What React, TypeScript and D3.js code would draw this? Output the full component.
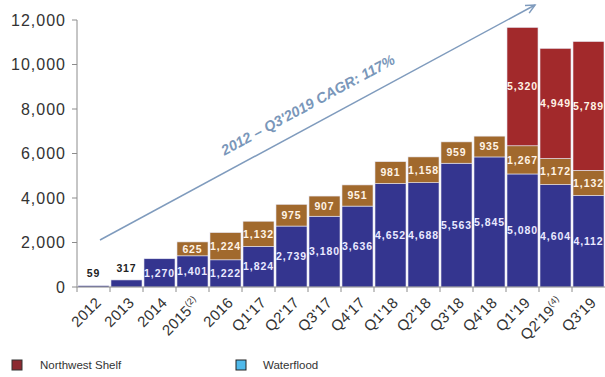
import React from "react";
import * as d3 from "d3";

const categories = ["2012", "2013", "2014", "2015", "2016", "Q1'17", "Q2'17", "Q3'17", "Q4'17", "Q1'18", "Q2'18", "Q3'18", "Q4'18", "Q1'19", "Q2'19", "Q3'19"];
const superscripts = ["", "", "", "(2)", "", "", "", "", "", "", "", "", "", "", "(4)", ""];
const baseValues = [59, 317, 1270, 1401, 1222, 1824, 2739, 3180, 3636, 4652, 4688, 5563, 5845, 5080, 4604, 4112];
const midValues = [0, 0, 0, 625, 1224, 1132, 975, 907, 951, 981, 1158, 959, 935, 1267, 1172, 1132];
const nwsValues = [0, 0, 0, 0, 0, 0, 0, 0, 0, 0, 0, 0, 0, 5320, 4949, 5789];
const yTicks = [0, 2000, 4000, 6000, 8000, 10000, 12000];
const cagrLabel = "2012 \u2013 Q3'2019 CAGR: 117%";
const legendItems = ["Northwest Shelf", "Waterflood"];

const W = 605, H = 377;
const BLUE = "#34358f";
const BROWN = "#a1692d";
const RED = "#a2292b";

export default function App() {
  const x = d3.scaleBand<string>().domain(categories).range([77, 605]).paddingInner(0.06).paddingOuter(0.03);
  const y = d3.scaleLinear().domain([0, 12000]).range([287, 20]);
  const fmt = d3.format(",");
  const font = "'Liberation Sans', Arial, sans-serif";

  const segs: any[] = [];
  categories.forEach((c, i) => {
    const b = baseValues[i], m = midValues[i], n = nwsValues[i];
    segs.push({ c, y0: 0, y1: b, v: b, fill: BLUE, key: "b" + i });
    if (m) segs.push({ c, y0: b, y1: b + m, v: m, fill: BROWN, key: "m" + i });
    if (n) segs.push({ c, y0: b + m, y1: b + m + n, v: n, fill: RED, key: "n" + i });
  });

  const bw = x.bandwidth();
  // arrow
  const ax0 = 100, ay0 = 240, ax1 = 535, ay1 = 5;
  const ang = Math.atan2(ay1 - ay0, ax1 - ax0);
  const angDeg = (ang * 180) / Math.PI;
  const head = 10;
  const h1 = [ax1 - head * Math.cos(ang - 0.45), ay1 - head * Math.sin(ang - 0.45)];
  const h2 = [ax1 - head * Math.cos(ang + 0.45), ay1 - head * Math.sin(ang + 0.45)];
  const tMid = 0.5;
  const tx = ax0 + (ax1 - ax0) * tMid, ty = ay0 + (ay1 - ay0) * tMid;
  const off = 15;
  const ttx = tx + off * Math.sin(ang), tty = ty - off * Math.cos(ang);

  return (
    <svg width={W} height={H} style={{ position: "absolute", left: 0, top: 0, background: "#fff" }}>
      {/* y axis */}
      <line x1={77} x2={77} y1={20} y2={287} stroke="#8c8c8c" strokeWidth={1} />
      {yTicks.map((t) => (
        <g key={t}>
          <line x1={72} x2={77} y1={y(t)} y2={y(t)} stroke="#8c8c8c" />
          <text x={66} y={y(t)} dy="0.36em" textAnchor="end" fontFamily={font} fontSize={16} letterSpacing={1} fill="#333">
            {fmt(t)}
          </text>
        </g>
      ))}
      {/* bars */}
      {segs.map((s) => (
        <rect key={s.key} x={x(s.c)!} width={bw} y={y(s.y1)} height={Math.max(0, y(s.y0) - y(s.y1))} fill={s.fill} stroke="#e6e6f2" strokeWidth={0.6} />
      ))}
      {/* x axis */}
      <line x1={77} x2={605} y1={287} y2={287} stroke="#8c8c8c" />
      {categories.map((c, i) => (
        <line key={"t" + c} x1={77 + i * x.step()} x2={77 + i * x.step()} y1={287} y2={292} stroke="#8c8c8c" />
      ))}
      {categories.map((c, i) => {
        const cx = x(c)! + bw / 2;
        return (
          <text key={"xl" + c} transform={`translate(${cx + 1},${296}) rotate(-45)`} textAnchor="end" dy="0.71em" fontFamily={font} fontSize={15} letterSpacing={0.3} fill="#333">
            {c}
            {superscripts[i] ? (
              <tspan fontSize={9} dy="-0.7em">{superscripts[i]}</tspan>
            ) : null}
          </text>
        );
      })}
      {/* value labels */}
      {segs.map((s) => {
        const cx = x(s.c)! + bw / 2;
        const small = y(s.y0) - y(s.y1) < 10;
        const cy = small ? y(s.y1) - 12 : (y(s.y0) + y(s.y1)) / 2;
        return (
          <text key={"l" + s.key} x={cx} y={cy} dy="0.36em" textAnchor="middle" fontFamily={font} fontWeight="bold" fontSize={10.5} letterSpacing={0.9} fill={small ? "#222" : s.fill === BLUE ? "#e9e9ff" : "#fff3e6"}>
            {fmt(s.v)}
          </text>
        );
      })}
      {/* CAGR arrow */}
      <line x1={ax0} y1={ay0} x2={ax1} y2={ay1} stroke="#7f9bbd" strokeWidth={1.5} />
      <polyline points={`${h1[0]},${h1[1]} ${ax1},${ay1} ${h2[0]},${h2[1]}`} fill="none" stroke="#7f9bbd" strokeWidth={1.5} />
      <text transform={`translate(${ttx},${tty}) rotate(${angDeg})`} textAnchor="middle" fontFamily={font} fontStyle="italic" fontWeight="bold" fontSize={14.5} fill="#7a97ba">
        {cagrLabel}
      </text>
      {/* legend */}
      <rect x={12} y={360} width={10} height={10} fill="#8c2a31" stroke="#333" strokeWidth={1} />
      <text x={40} y={365} dy="0.36em" fontFamily={font} fontSize={11.5} fill="#333">{legendItems[0]}</text>
      <rect x={236} y={360} width={10} height={10} fill="#4fb9ea" stroke="#222" strokeWidth={1} />
      <text x={263} y={365} dy="0.36em" fontFamily={font} fontSize={11.5} fill="#333">{legendItems[1]}</text>
    </svg>
  );
}
